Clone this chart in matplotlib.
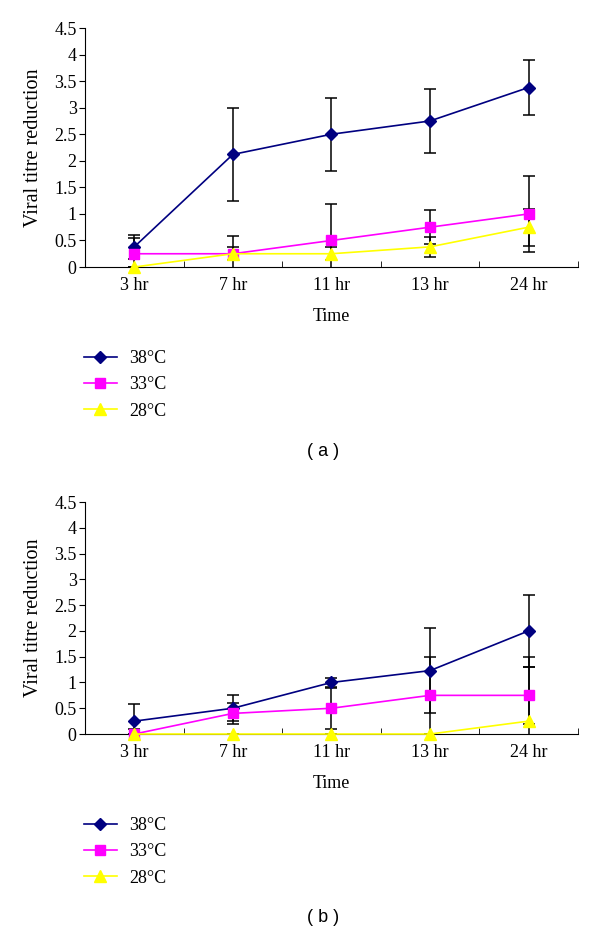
import matplotlib
matplotlib.use("Agg")
import matplotlib.pyplot as plt
import numpy as np

# data
times = ["3 hr", "7 hr", "11 hr", "13 hr", "24 hr"]
series_labels = ["38\u00b0C", "33\u00b0C", "28\u00b0C"]

a_38 = [0.38, 2.12, 2.50, 2.75, 3.38]
a_38_err = [0.22, 0.87, 0.69, 0.60, 0.52]
a_33 = [0.25, 0.25, 0.50, 0.75, 1.00]
a_33_err = [0.30, 0.33, 0.68, 0.32, 0.72]
a_28 = [0.00, 0.25, 0.25, 0.38, 0.75]
a_28_err = [0.00, 0.12, 0.12, 0.19, 0.35]

b_38 = [0.25, 0.50, 1.00, 1.23, 2.00]
b_38_err = [0.33, 0.25, 0.08, 0.82, 0.70]
b_33 = [0.00, 0.40, 0.50, 0.75, 0.75]
b_33_err = [0.10, 0.20, 0.40, 0.75, 0.55]
b_28 = [0.00, 0.00, 0.00, 0.00, 0.25]
b_28_err = [0.00, 0.00, 0.00, 0.00, 1.25]

colors = ["#000080", "#ff00ff", "#ffff00"]
markers = ["D", "s", "^"]
msizes = [6, 7, 8]

SERIF = ["Liberation Serif", "DejaVu Serif"]

fig = plt.figure(figsize=(6, 9.34), dpi=100)


def draw_panel(ax, vals, errs):
    x = np.arange(len(times))
    for v, e, c, m, ms, lab in zip(vals, errs, colors, markers, msizes, series_labels):
        ax.errorbar(x, v, yerr=e, fmt="none", ecolor="black", elinewidth=1.1,
                    capsize=4, capthick=1.1, zorder=2)
        ax.plot(x, v, color=c, marker=m, markersize=ms, lw=1.2, label=lab,
                markeredgecolor=c, zorder=3, clip_on=False)
    ax.set_xlim(-0.5, len(times) - 0.5)
    ax.set_ylim(0, 4.5)
    ax.set_yticks(np.arange(0, 4.51, 0.5))
    ax.set_yticklabels(["0", "0.5", "1", "1.5", "2", "2.5", "3", "3.5", "4", "4.5"],
                       family=SERIF, fontsize=13)
    ax.set_xticks(x)
    ax.set_xticklabels(times, family=SERIF, fontsize=13)
    ax.set_xticks(np.arange(-0.5, len(times), 1.0), minor=True)
    ax.tick_params(axis="x", which="major", length=0, pad=7)
    ax.tick_params(axis="x", which="minor", direction="in", length=4)
    ax.tick_params(axis="y", direction="out", length=4, pad=2)
    for s in ["top", "right"]:
        ax.spines[s].set_visible(False)
    ax.set_xlabel("Time", family=SERIF, fontsize=13, labelpad=10)
    ax.set_ylabel("Viral titre reduction", family=SERIF, fontsize=14.5, labelpad=8)


ax1 = fig.add_axes([0.1417, 0.7141, 0.8213, 0.2559])
draw_panel(ax1, [a_38, a_33, a_28], [a_38_err, a_33_err, a_28_err])
ax2 = fig.add_axes([0.1417, 0.2141, 0.8213, 0.2484])
draw_panel(ax2, [b_38, b_33, b_28], [b_38_err, b_33_err, b_28_err])

for ax, ytop, tag, ylab in [(ax1, 350, "( a )", 452), (ax2, 817, "( b )", 918)]:
    h, l = ax.get_legend_handles_labels()
    fig.legend(h, l, loc="upper left", bbox_to_anchor=(84 / 600, 1 - ytop / 934),
               frameon=False, prop={"family": SERIF, "size": 13},
               borderpad=0, borderaxespad=0,
               handlelength=1.8, labelspacing=0.52, handletextpad=0.7)
    fig.text(323 / 600, 1 - ylab / 934, tag, ha="center", va="center",
             family=["Liberation Sans", "DejaVu Sans"], fontsize=13)

fig.savefig("out.png", dpi=100)
